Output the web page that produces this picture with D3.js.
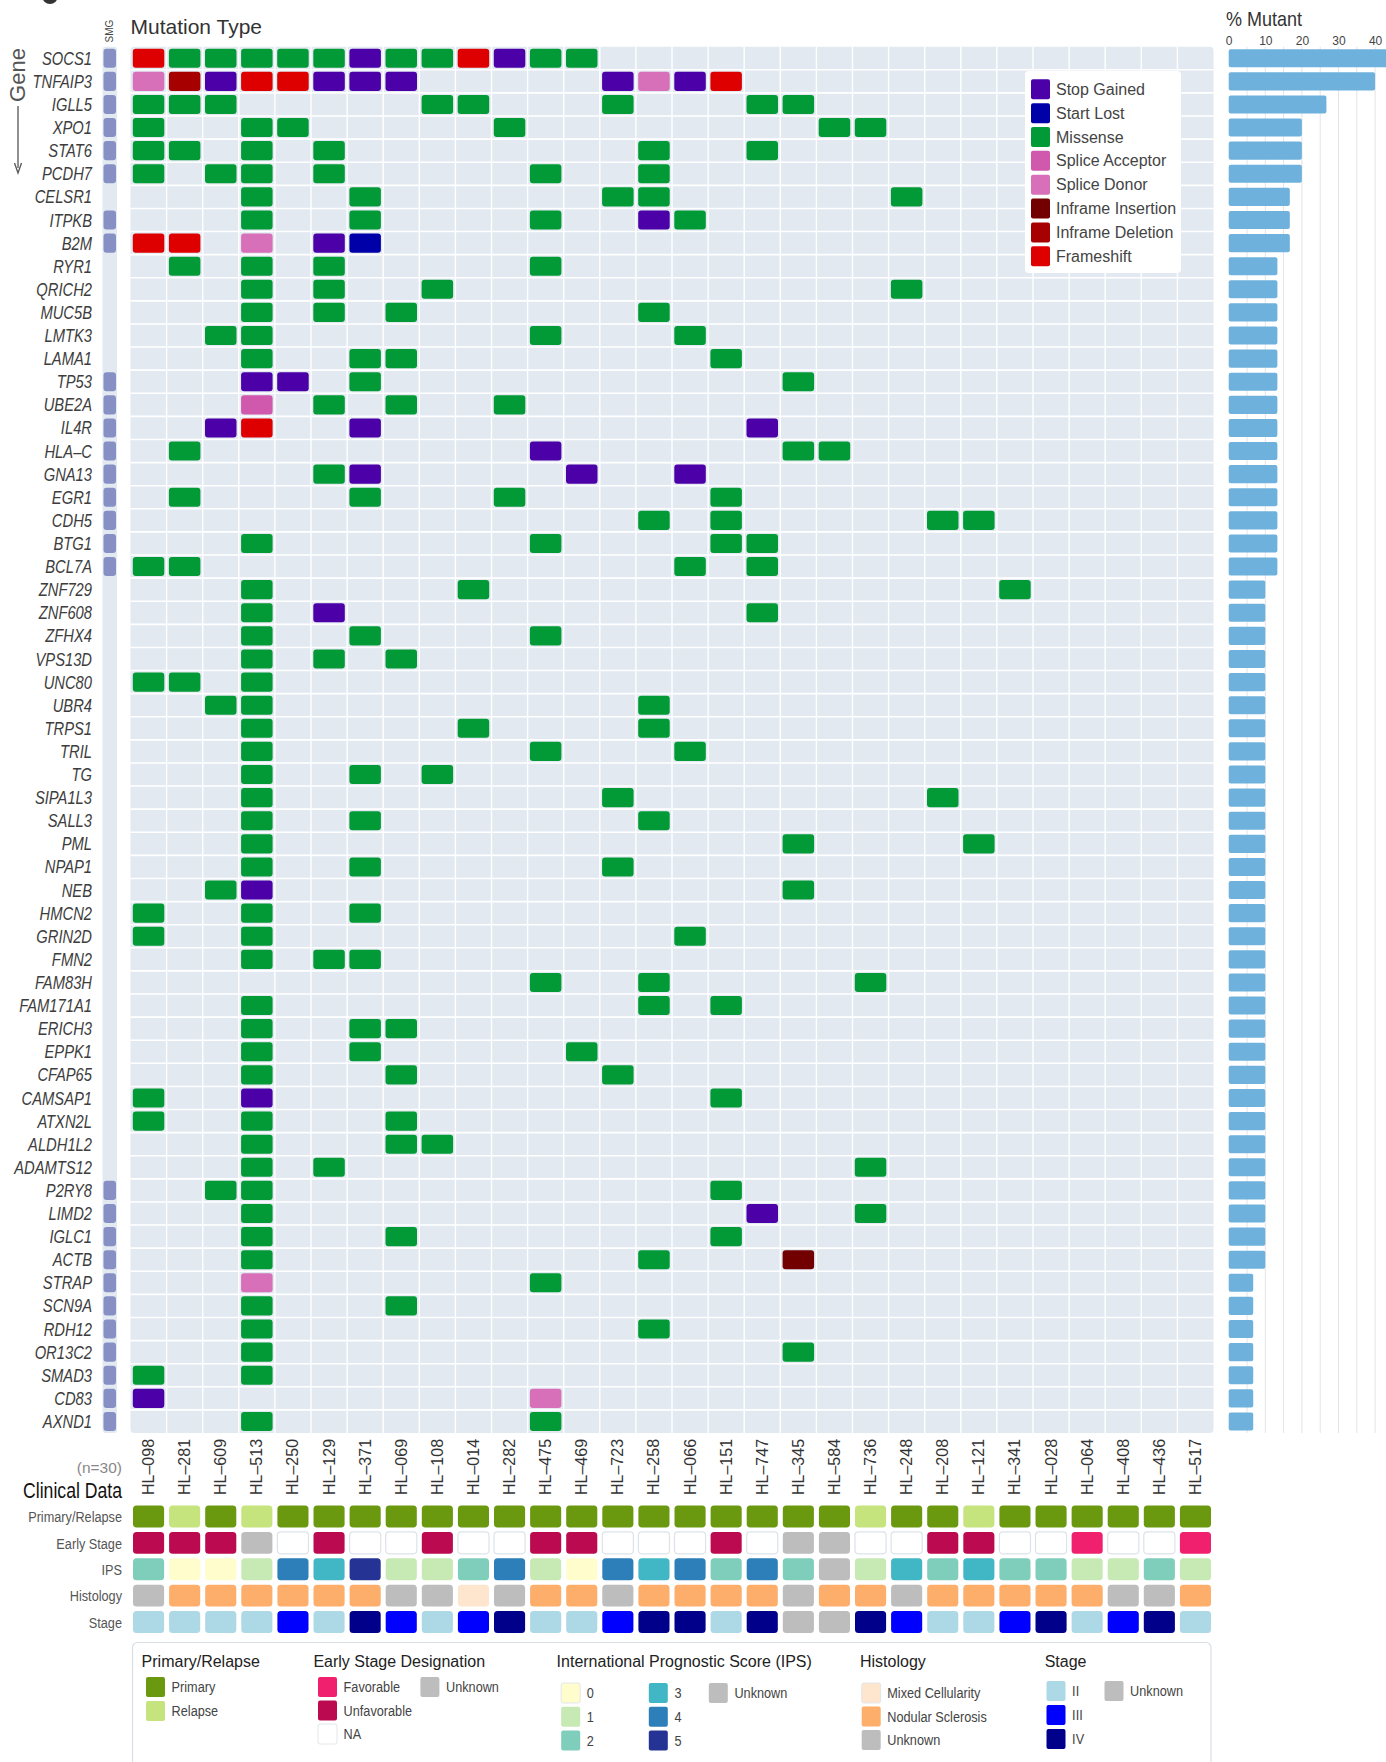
<!DOCTYPE html>
<html><head><meta charset="utf-8">
<script src="https://cdnjs.cloudflare.com/ajax/libs/d3/7.8.5/d3.min.js"></script>
<style>body{margin:0;background:#fff;}svg{display:block;}</style>
</head><body>
<script>
// ---------------- DATA ----------------
const samples = ["HL–098","HL–281","HL–609","HL–513","HL–250","HL–129","HL–371","HL–069","HL–108","HL–014",
  "HL–282","HL–475","HL–469","HL–723","HL–258","HL–066","HL–151","HL–747","HL–345","HL–584",
  "HL–736","HL–248","HL–208","HL–121","HL–341","HL–028","HL–064","HL–408","HL–436","HL–517"];

const genes = ["SOCS1","TNFAIP3","IGLL5","XPO1","STAT6","PCDH7","CELSR1","ITPKB","B2M","RYR1","QRICH2","MUC5B",
  "LMTK3","LAMA1","TP53","UBE2A","IL4R","HLA–C","GNA13","EGR1","CDH5","BTG1","BCL7A","ZNF729","ZNF608","ZFHX4",
  "VPS13D","UNC80","UBR4","TRPS1","TRIL","TG","SIPA1L3","SALL3","PML","NPAP1","NEB","HMCN2","GRIN2D","FMN2",
  "FAM83H","FAM171A1","ERICH3","EPPK1","CFAP65","CAMSAP1","ATXN2L","ALDH1L2","ADAMTS12","P2RY8","LIMD2","IGLC1",
  "ACTB","STRAP","SCN9A","RDH12","OR13C2","SMAD3","CD83","AXND1"];

// significantly mutated genes (SMG column)
const smgGenes = ["SOCS1","TNFAIP3","IGLL5","XPO1","STAT6","PCDH7","ITPKB","B2M","TP53","UBE2A","IL4R","HLA–C",
  "GNA13","EGR1","CDH5","BTG1","BCL7A","P2RY8","LIMD2","IGLC1","ACTB","STRAP","SCN9A","RDH12","OR13C2","SMAD3","CD83","AXND1"];

// % mutant per gene (same order as genes)
const pctMutant = [43.3,40,26.7,20,20,20,16.7,16.7,16.7,
  13.3,13.3,13.3,13.3,13.3,13.3,13.3,13.3,13.3,13.3,13.3,13.3,13.3,13.3,
  10,10,10,10,10,10,10,10,10,10,10,10,10,10,10,10,10,10,10,10,10,10,10,10,10,10,10,10,10,10,
  6.7,6.7,6.7,6.7,6.7,6.7,6.7];

// mutation type codes
const mutationTypes = ["Stop Gained","Start Lost","Missense","Splice Acceptor","Splice Donor","Inframe Insertion","Inframe Deletion","Frameshift"];
const typeCodes = {S:"Stop Gained",L:"Start Lost",M:"Missense",A:"Splice Acceptor",D:"Splice Donor",I:"Inframe Insertion",X:"Inframe Deletion",F:"Frameshift"};

// per gene: "columnIndex+typeCode"
const mutationCalls = [
  "0F 1M 2M 3M 4M 5M 6S 7M 8M 9F 10S 11M 12M",
  "0D 1X 2S 3F 4F 5S 6S 7S 13S 14D 15S 16F",
  "0M 1M 2M 8M 9M 13M 17M 18M",
  "0M 3M 4M 10M 19M 20M",
  "0M 1M 3M 5M 14M 17M",
  "0M 2M 3M 5M 11M 14M",
  "3M 6M 13M 14M 21M",
  "3M 6M 11M 14S 15M",
  "0F 1F 3D 5S 6L",
  "1M 3M 5M 11M",
  "3M 5M 8M 21M",
  "3M 5M 7M 14M",
  "2M 3M 11M 15M",
  "3M 6M 7M 16M",
  "3S 4S 6M 18M",
  "3A 5M 7M 10M",
  "2S 3F 6S 17S",
  "1M 11S 18M 19M",
  "5M 6S 12S 15S",
  "1M 6M 10M 16M",
  "14M 16M 22M 23M",
  "3M 11M 16M 17M",
  "0M 1M 15M 17M",
  "3M 9M 24M",
  "3M 5S 17M",
  "3M 6M 11M",
  "3M 5M 7M",
  "0M 1M 3M",
  "2M 3M 14M",
  "3M 9M 14M",
  "3M 11M 15M",
  "3M 6M 8M",
  "3M 13M 22M",
  "3M 6M 14M",
  "3M 18M 23M",
  "3M 6M 13M",
  "2M 3S 18M",
  "0M 3M 6M",
  "0M 3M 15M",
  "3M 5M 6M",
  "11M 14M 20M",
  "3M 14M 16M",
  "3M 6M 7M",
  "3M 6M 12M",
  "3M 7M 13M",
  "0M 3S 16M",
  "0M 3M 7M",
  "3M 7M 8M",
  "3M 5M 20M",
  "2M 3M 16M",
  "3M 17S 20M",
  "3M 7M 16M",
  "3M 14M 18I",
  "3D 11M",
  "3M 7M",
  "3M 14M",
  "3M 18M",
  "0M 3M",
  "0S 11D",
  "3M 11M"
];

const pctTicks = [0,10,20,30,40];

// clinical data
const clinicalRows = ["Primary/Relapse","Early Stage","IPS","Histology","Stage"];
const primaryRelapse = "P R P R P P P P P P P P P P P P P P P P R P P R P P P P P P".split(" ");
const earlyStage = "U U U K N U N N U N N U U N N N U N K K N N U U N N F N N F".split(" ");
const ips = "2 0 0 1 4 3 5 1 1 2 4 1 0 4 3 4 2 4 2 U 1 3 2 3 2 2 1 1 2 1".split(" ");
const histology = "U NS NS NS NS NS NS U U MC U NS NS U NS NS NS NS U NS NS U NS NS NS NS NS U U NS".split(" ");
const stage = "II II II II III II IV III II III IV II II III IV IV II IV U U IV III II II III IV II III IV II".split(" ");

// legend categories
const primaryCats = ["P","R"], primaryLabels = ["Primary","Relapse"];
const earlyCats = ["F","U","N","K"], earlyLabels = ["Favorable","Unfavorable","NA","Unknown"];
const ipsCats = ["0","1","2","3","4","5","U"], ipsLabels = ["0","1","2","3","4","5","Unknown"];
const histCats = ["MC","NS","U"], histLabels = ["Mixed Cellularity","Nodular Sclerosis","Unknown"];
const stageCats = ["II","III","IV","U"], stageLabels = ["II","III","IV","Unknown"];

// ---------------- STYLES ----------------
const typeColor = d3.scaleOrdinal().domain(mutationTypes)
  .range(["#4b00a8","#0000a8","#029a36","#d058ad","#d770b8","#730000","#a70000","#de0000"]);
const primaryColor = d3.scaleOrdinal().domain(primaryCats).range(["#6a990f","#c5e47d"]);
const earlyColor = d3.scaleOrdinal().domain(earlyCats).range(["#f0206e","#bc0a50","#ffffff","#bdbdbd"]);
const ipsColor = d3.scaleOrdinal().domain(ipsCats).range(["#fffdcc","#c7e9b4","#7fcdbb","#41b6c4","#2c7fb8","#253494","#bdbdbd"]);
const histColor = d3.scaleOrdinal().domain(histCats).range(["#fee6ce","#fdae6b","#bdbdbd"]);
const stageColor = d3.scaleOrdinal().domain(stageCats).range(["#add8e6","#0000ff","#00008b","#bdbdbd"]);

// font detection for narrow font
const ctx = document.createElement("canvas").getContext("2d");
function mw(f){ctx.font=f;return ctx.measureText("FAM171A1 Primary/Relapse").width;}
const hasNarrow = mw("18px 'Liberation Sans Narrow', monospace") !== mw("18px monospace");
const REG = "'Liberation Sans', Arial, Helvetica, sans-serif";
const NAR = hasNarrow ? "'Liberation Sans Narrow', 'Arial Narrow', sans-serif" : REG;
const NSX = hasNarrow ? 1 : 0.82;

function txt(g, o){
  const t = g.append("text").text(o.text)
    .attr("font-family", o.narrow ? NAR : REG)
    .attr("font-size", o.size).attr("fill", o.fill || "#333")
    .attr("text-anchor", o.anchor || "start");
  if (o.base) t.attr("dominant-baseline", o.base);
  if (o.italic) t.attr("font-style", "italic");
  if (o.weight) t.attr("font-weight", o.weight);
  let tr = `translate(${o.x},${o.y})`;
  if (o.rotate) tr += ` rotate(${o.rotate})`;
  const sx = (o.narrow ? NSX : 1) * (o.sx || 1);
  if (sx !== 1) tr += ` scale(${sx},1)`;
  t.attr("transform", tr);
  return t;
}

// ---------------- CHART ----------------
const W = 1386, H = 1762;
const svg = d3.select("body").append("svg").attr("width", W).attr("height", H);

const x = d3.scaleBand().domain(samples).range([130.5, 1213.5]);
const y = d3.scaleBand().domain(genes).range([46.7, 1433]);
const pct = d3.scaleLinear().domain([0, 40]).range([1228.7, 1375.1]);
const bw = x.bandwidth(), bh = y.bandwidth();

// cropped fragment of the panel letter at the very top-left
svg.append("ellipse").attr("cx", 50).attr("cy", -3).attr("rx", 7.5).attr("ry", 7).attr("fill", "#333");

// titles
txt(svg, {x: 130.5, y: 34, text: "Mutation Type", size: 21, fill: "#333"});
txt(svg, {x: 1226, y: 26, text: "% Mutant", size: 20, fill: "#333", sx: 0.9});
txt(svg, {x: 113, y: 31, text: "SMG", size: 10, fill: "#444", anchor: "middle", rotate: -90});
txt(svg, {x: 25, y: 75, text: "Gene", size: 22, fill: "#555", anchor: "middle", rotate: -90});
svg.append("line").attr("x1", 18).attr("x2", 18).attr("y1", 106).attr("y2", 168)
  .attr("stroke", "#555").attr("stroke-width", 1.3);
svg.append("path").attr("d", d3.line()([[14.5,163],[18,173],[21.5,163]]))
  .attr("fill", "none").attr("stroke", "#555").attr("stroke-width", 1.3);

// grid background
const grid = svg.append("g");
grid.append("rect").attr("x", x.range()[0]).attr("y", y.range()[0])
  .attr("width", x.range()[1] - x.range()[0]).attr("height", y.range()[1] - y.range()[0])
  .attr("rx", 4).attr("fill", "#e2e9f1");
grid.selectAll("line.v").data(samples.slice(1)).join("line")
  .attr("x1", d => x(d)).attr("x2", d => x(d))
  .attr("y1", y.range()[0]).attr("y2", y.range()[1])
  .attr("stroke", "#fff").attr("stroke-width", 1.4);
grid.selectAll("line.h").data(genes.slice(1)).join("line")
  .attr("y1", d => y(d)).attr("y2", d => y(d))
  .attr("x1", x.range()[0]).attr("x2", x.range()[1])
  .attr("stroke", "#fff").attr("stroke-width", 1.6);

// mutation tiles
const mutData = [];
mutationCalls.forEach((s, gi) => {
  s.split(" ").forEach(tok => {
    const col = +tok.slice(0, -1), code = tok.slice(-1);
    mutData.push({gene: genes[gi], sample: samples[col], type: typeCodes[code]});
  });
});
svg.append("g").selectAll("rect").data(mutData).join("rect")
  .attr("x", d => x(d.sample) + 2.3).attr("y", d => y(d.gene) + 2)
  .attr("width", bw - 4.6).attr("height", bh - 4).attr("rx", 3)
  .attr("fill", d => typeColor(d.type));

// SMG column
svg.append("rect").attr("x", 102.5).attr("y", y.range()[0]).attr("width", 14.5)
  .attr("height", y.range()[1] - y.range()[0]).attr("rx", 3).attr("fill", "#e2e9f1");
svg.append("g").selectAll("rect").data(smgGenes).join("rect")
  .attr("x", 103.5).attr("y", d => y(d) + 2).attr("width", 12.5).attr("height", bh - 4)
  .attr("rx", 3).attr("fill", "#8690c5");

// gene labels
const gl = svg.append("g");
genes.forEach(g => txt(gl, {x: 92, y: y(g) + bh / 2, text: g, size: 18, narrow: true, italic: true,
  fill: "#3d3d3d", anchor: "end", base: "central"}));

// % mutant bars
const bars = svg.append("g");
bars.selectAll("line").data(d3.range(5, 45, 5)).join("line")
  .attr("x1", d => pct(d)).attr("x2", d => pct(d))
  .attr("y1", y.range()[0]).attr("y2", y.range()[1])
  .attr("stroke", "#e4e4e4").attr("stroke-width", 1);
bars.selectAll("rect").data(genes).join("rect")
  .attr("x", pct(0)).attr("y", d => y(d) + 2.5)
  .attr("width", (d, i) => pct(pctMutant[i]) - pct(0)).attr("height", bh - 5)
  .attr("rx", 2).attr("fill", "#6fb1dd");
const ax = svg.append("g").attr("transform", "translate(0,45)")
  .call(d3.axisTop(pct).tickValues(pctTicks).tickSize(0).tickPadding(0));
ax.select(".domain").remove();
ax.selectAll("text").attr("font-family", NAR).attr("font-size", 12).attr("fill", "#444");

// mutation legend
const ml = svg.append("g");
ml.append("rect").attr("x", 1025).attr("y", 71).attr("width", 156).attr("height", 202)
  .attr("rx", 4).attr("fill", "#fff");
const mly = d3.scaleBand().domain(mutationTypes).range([79.3, 79.3 + 23.85 * 8]);
ml.selectAll("rect.sw").data(mutationTypes).join("rect").attr("class", "sw")
  .attr("x", 1031).attr("y", d => mly(d)).attr("width", 19).attr("height", 20).attr("rx", 2)
  .attr("fill", d => typeColor(d));
mutationTypes.forEach(t => txt(ml, {x: 1056, y: mly(t) + 10, text: t, size: 16, fill: "#444", base: "central"}));

// sample labels
const sl = svg.append("g");
samples.forEach(s => txt(sl, {x: x(s) + bw / 2, y: 1495, text: s, size: 16, fill: "#333",
  rotate: -90, base: "central"}));

// clinical section
txt(svg, {x: 122, y: 1473, text: "(n=30)", size: 15.5, fill: "#888", anchor: "end"});
txt(svg, {x: 122, y: 1498, text: "Clinical Data", size: 21.5, fill: "#111", anchor: "end", narrow: true});
const yc = d3.scaleBand().domain(clinicalRows).range([1503.5, 1635.5]);
const clinSets = [
  {row: "Primary/Relapse", vals: primaryRelapse, color: primaryColor},
  {row: "Early Stage", vals: earlyStage, color: earlyColor},
  {row: "IPS", vals: ips, color: ipsColor},
  {row: "Histology", vals: histology, color: histColor},
  {row: "Stage", vals: stage, color: stageColor}
];
const clinTiles = [];
clinSets.forEach(cs => cs.vals.forEach((v, i) => clinTiles.push({row: cs.row, sample: samples[i], v, fill: cs.color(v)})));
svg.append("g").selectAll("rect").data(clinTiles).join("rect")
  .attr("x", d => x(d.sample) + 2.5).attr("y", d => yc(d.row) + 2)
  .attr("width", bw - 5).attr("height", yc.bandwidth() - 4.5).attr("rx", 3.5)
  .attr("fill", d => d.fill)
  .attr("stroke", d => d.fill === "#ffffff" ? "#dde3ea" : "none").attr("stroke-width", 1.2);
const cl = svg.append("g");
clinicalRows.forEach(r => txt(cl, {x: 122, y: yc(r) + yc.bandwidth() / 2, text: r, size: 15.5,
  narrow: true, fill: "#555", anchor: "end", base: "central"}));

// bottom legend
const bl = svg.append("g");
bl.append("rect").attr("x", 132.5).attr("y", 1642.5).attr("width", 1078.5).attr("height", 200)
  .attr("rx", 5).attr("fill", "#fff").attr("stroke", "#d9dfe6").attr("stroke-width", 1.2);
function legendGroup(title, tx, items) {
  txt(bl, {x: tx, y: 1667, text: title, size: 16, fill: "#222"});
  const g = bl.append("g");
  g.selectAll("rect").data(items).join("rect")
    .attr("x", d => d.x).attr("y", d => d.y).attr("width", 19).attr("height", 20).attr("rx", 2)
    .attr("fill", d => d.color).attr("stroke", d => d.color === "#ffffff" || d.color === "#fffdcc" || d.color === "#fee6ce" ? "#e2e6ea" : "none");
  items.forEach(d => txt(g, {x: d.x + 25.6, y: d.y + 10, text: d.label, size: 15.5, narrow: true, fill: "#444", base: "central"}));
}
legendGroup("Primary/Relapse", 141.6, primaryCats.map((c, i) => ({x: 146, y: 1677 + i * 24, color: primaryColor(c), label: primaryLabels[i]})));
legendGroup("Early Stage Designation", 313.4, earlyCats.map((c, i) => ({x: i < 3 ? 318 : 420.4, y: 1677 + (i < 3 ? i : 0) * 23.5, color: earlyColor(c), label: earlyLabels[i]})));
legendGroup("International Prognostic Score (IPS)", 556.6, ipsCats.map((c, i) => ({x: i < 3 ? 561.2 : (i < 6 ? 648.8 : 708.8), y: 1683 + (i < 6 ? i % 3 : 0) * 23.8, color: ipsColor(c), label: ipsLabels[i]})));
legendGroup("Histology", 860, histCats.map((c, i) => ({x: 861.7, y: 1683 + i * 23.5, color: histColor(c), label: histLabels[i]})));
legendGroup("Stage", 1044.7, stageCats.map((c, i) => ({x: i < 3 ? 1046.5 : 1104.5, y: 1681 + (i < 3 ? i : 0) * 24, color: stageColor(c), label: stageLabels[i]})));
</script>
</body></html>
